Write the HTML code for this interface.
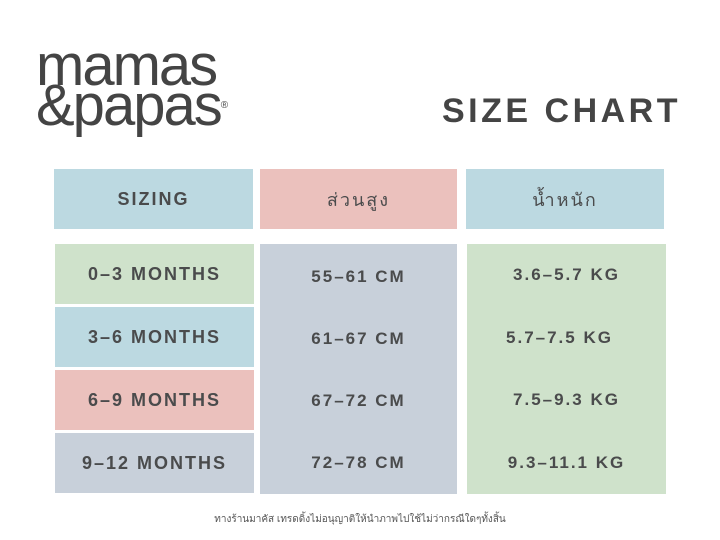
<!DOCTYPE html>
<html><head><meta charset="utf-8"><style>
body{margin:0;width:720px;height:540px;background:#fff;position:relative;overflow:hidden;font-family:"Liberation Sans","Noto Sans CJK SC",sans-serif;color:#4a4b4c}
.b{position:absolute;display:flex;align-items:center;justify-content:center;font-weight:bold;letter-spacing:2px;font-size:18px}
.blue{background:#bcd9e1}.pink{background:#ebc1bd}.green{background:#cfe2cb}.gray{background:#c8d0da}
</style></head><body>
<div style="position:absolute;left:36px;top:46px;font-size:58px;line-height:40px;color:#444;letter-spacing:-2px;font-family:'Liberation Sans',sans-serif">mamas<br>&amp;papas<span style="font-size:10px;vertical-align:top;letter-spacing:0">®</span></div>
<div style="position:absolute;left:442px;top:92px;font-size:34px;font-weight:bold;letter-spacing:3.5px;color:#444">SIZE CHART</div>
<div class="b blue" style="left:54px;top:169px;width:199px;height:60px">SIZING</div>
<div class="b pink" style="left:260px;top:169px;width:197px;height:60px;font-weight:normal">ส่วนสูง</div>
<div class="b blue" style="left:466px;top:169px;width:198px;height:60px;font-weight:normal">น้ำหนัก</div>
<div class="b green" style="left:55px;top:244px;width:199px;height:60px">0–3 MONTHS</div>
<div class="b blue" style="left:55px;top:307px;width:199px;height:60px">3–6 MONTHS</div>
<div class="b pink" style="left:55px;top:370px;width:199px;height:60px">6–9 MONTHS</div>
<div class="b gray" style="left:55px;top:433px;width:199px;height:60px">9–12 MONTHS</div>
<div class="gray" style="position:absolute;left:260px;top:244px;width:197px;height:250px"></div>
<div class="green" style="position:absolute;left:467px;top:244px;width:199px;height:250px"></div>
<div class="b" style="left:260px;top:247px;width:197px;height:60px;font-size:17px">55–61 CM</div>
<div class="b" style="left:260px;top:309px;width:197px;height:60px;font-size:17px">61–67 CM</div>
<div class="b" style="left:260px;top:371px;width:197px;height:60px;font-size:17px">67–72 CM</div>
<div class="b" style="left:260px;top:433px;width:197px;height:60px;font-size:17px">72–78 CM</div>
<div class="b" style="left:467px;top:245px;width:199px;height:60px;font-size:17px">3.6–5.7 KG</div>
<div class="b" style="left:460px;top:308px;width:199px;height:60px;font-size:17px">5.7–7.5 KG</div>
<div class="b" style="left:467px;top:370px;width:199px;height:60px;font-size:17px">7.5–9.3 KG</div>
<div class="b" style="left:467px;top:433px;width:199px;height:60px;font-size:17px">9.3–11.1 KG</div>
<div style="position:absolute;left:0;width:720px;top:512px;text-align:center;font-size:10px;color:#555">ทางร้านมาคัส เทรดดิ้งไม่อนุญาติให้นำภาพไปใช้ไม่ว่ากรณีใดๆทั้งสิ้น</div>
</body></html>
